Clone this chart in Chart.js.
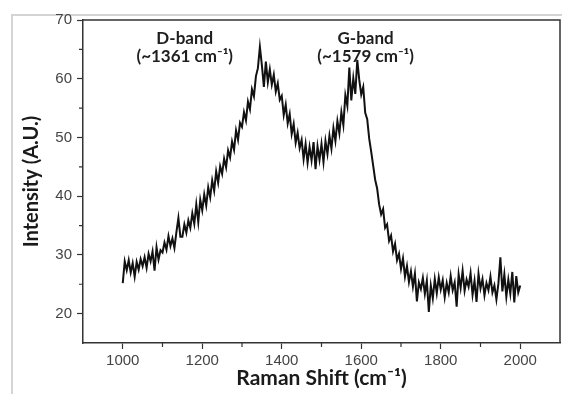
<!DOCTYPE html>
<html>
<head>
<meta charset="utf-8">
<script src="https://cdn.jsdelivr.net/npm/chart.js@4.4.1/dist/chart.umd.min.js"></script>
<style>
  html, body { margin: 0; padding: 0; background: #fff; }
  #wrap { position: relative; width: 562px; height: 394px; }
  #frame { position: absolute; left: 11px; top: 14px; width: 560px; height: 400px;
           border-left: 2px solid #d4d4d4; border-top: 2px solid #d4d4d4; }
  canvas { position: absolute; left: 0; top: 0; }
</style>
</head>
<body>
<div id="wrap">
  <div id="frame"></div>
  <canvas id="raman-chart" width="562" height="394"></canvas>
</div>
<script>

    // Raman shift from 1000 to 2000 cm-1, every 5 cm-1
    var shift_start = 1000;
    var shift_step = 5;

    // intensity, one row per 50 cm-1
    var intensity = [
        25.2, 28.9, 27.4, 29.1, 27.0, 28.6, 26.3, 28.8, 27.5, 29.3,
        28.1, 29.6, 27.8, 30.2, 28.9, 30.6, 27.3, 31.3, 29.2, 30.8,
        30.4, 32.1, 30.9, 33.2, 31.5, 32.8, 31.2, 33.9, 36.3, 33.1,
        33.1, 35.2, 33.8, 35.9, 34.6, 37.1, 35.3, 38.6, 35.6, 39.4,
        37.6, 40.3, 38.4, 41.5, 39.8, 42.7, 40.9, 44.2, 42.3, 45.1,
        43.8, 46.4, 44.9, 47.8, 46.6, 49.3, 47.9, 51.2, 49.6, 52.5,
        51.8, 54.3, 52.9, 56.1, 54.8, 58.2, 57.0, 60.4, 61.8, 65.4,
        62.3, 58.6, 62.9, 59.4, 61.6, 59.0, 60.7, 57.8, 59.2, 56.4,
        57.1, 53.8, 55.6, 52.4, 54.0, 50.6, 52.3, 49.1, 50.8, 48.2,
        49.6, 46.3, 48.9, 45.7, 48.4, 46.1, 49.2, 44.6, 48.5, 46.2,
        48.9, 45.8, 49.4, 47.2, 50.3, 48.1, 51.6, 49.4, 52.8, 50.7,
        54.3, 52.1, 57.2, 55.4, 61.9, 56.3, 60.1, 57.4, 63.2, 59.8,
        57.3, 58.6, 54.2, 53.1, 49.8, 47.6, 45.2, 42.8, 41.3, 38.6,
        36.9, 37.8, 34.6, 35.2, 32.4, 33.3, 30.6, 31.9, 29.1, 30.2,
        27.6, 29.4, 26.3, 28.1, 25.4, 27.2, 24.6, 26.8, 22.1, 25.3,
        24.2, 26.1, 23.4, 25.6, 20.3, 24.8, 22.6, 25.9, 23.5, 26.2,
        24.1, 25.7, 22.8, 25.2, 23.6, 26.4, 24.0, 25.3, 21.2, 26.7,
        24.4, 27.3, 23.9, 25.8, 24.6, 26.9, 23.2, 25.6, 22.0, 26.8,
        24.3, 25.9, 23.1, 25.2, 24.0, 26.3, 23.6, 24.8, 22.4, 25.1,
        29.6, 23.8, 26.7, 22.9, 25.8, 23.4, 27.1, 21.9, 26.4, 23.6,
        24.8
    ];

    // tick values on the axes
    var x_ticks = [1000, 1200, 1400, 1600, 1800, 2000];
    var x_minor = [1100, 1300, 1500, 1700, 1900];
    var y_ticks = [20, 30, 40, 50, 60, 70];
    var y_minor = [25, 35, 45, 55, 65];

    // band labels: text lines and where they sit (data units)
    var band_labels = [
        { x: 1156, y: 66.9, text: 'D-band' },
        { x: 1156, y: 63.8, text: '(~1361 cm\u207B\u00B9)' },
        { x: 1611, y: 66.9, text: 'G-band' },
        { x: 1611, y: 63.8, text: '(~1579 cm\u207B\u00B9)' }
    ];

    var x_min = 900, x_max = 2100;
    var y_min = 15, y_max = 70;

    var points = intensity.map(function (v, i) {
        return { x: shift_start + i * shift_step, y: v };
    });

    // box around the plot, minor ticks and band labels
    var extras = {
        id: 'extras',
        afterDraw: function (chart) {
            var ctx = chart.ctx, a = chart.chartArea;
            var xs = chart.scales.x, ys = chart.scales.y;
            ctx.save();
            ctx.strokeStyle = '#333';
            ctx.lineWidth = 1.5;
            ctx.beginPath();
            ctx.moveTo(a.left, a.top); ctx.lineTo(a.right, a.top); ctx.lineTo(a.right, a.bottom);
            ctx.stroke();
            ctx.lineWidth = 1.2;
            ctx.beginPath();
            x_minor.forEach(function (v) {
                var px = xs.getPixelForValue(v);
                ctx.moveTo(px, a.bottom); ctx.lineTo(px, a.bottom + 4);
            });
            y_minor.forEach(function (v) {
                var py = ys.getPixelForValue(v);
                ctx.moveTo(a.left, py); ctx.lineTo(a.left - 4, py);
            });
            ctx.stroke();
            ctx.fillStyle = '#1e1e1e';
            ctx.font = 'bold 17px Lato';
            ctx.textAlign = 'center';
            ctx.textBaseline = 'middle';
            band_labels.forEach(function (l) {
                ctx.fillText(l.text, xs.getPixelForValue(l.x), ys.getPixelForValue(l.y));
            });
            ctx.restore();
        }
    };

    var raman = {
        type: 'line',
        data: {
            datasets: [{
                data: points,
                borderColor: '#111',
                borderWidth: 2,
                pointRadius: 0,
                tension: 0,
                fill: false
            }]
        },
        options: {
            responsive: false,
            animation: false,
            layout: { padding: { left: 20, top: 20, right: 2, bottom: 3 } },
            plugins: { legend: { display: false }, tooltip: { enabled: false } },
            scales: {
                x: {
                    type: 'linear',
                    min: x_min, max: x_max,
                    afterFit: function (s) { s.height = 48; },
                    afterBuildTicks: function (s) {
                        s.ticks = x_ticks.map(function (v) { return { value: v }; });
                    },
                    ticks: { color: '#444', font: { family: 'Liberation Sans', size: 15 }, padding: 3, maxRotation: 0,
                             callback: function (v) { return String(v); } },
                    grid: { drawOnChartArea: false, tickLength: 6, tickColor: '#333', tickWidth: 1.2 },
                    border: { color: '#333', width: 1.5 },
                    title: { display: true, text: 'Raman Shift (cm\u207B\u00B9)', color: '#1a1a1a',
                             font: { family: 'Lato', size: 21, weight: 'bold' }, padding: { top: 0, bottom: 0 } }
                },
                y: {
                    min: y_min, max: y_max,
                    afterFit: function (s) { s.width = 63; },
                    afterBuildTicks: function (s) {
                        s.ticks = y_ticks.map(function (v) { return { value: v }; });
                    },
                    ticks: { color: '#444', font: { family: 'Liberation Sans', size: 15 }, padding: 5,
                             callback: function (v) { return String(v); } },
                    grid: { drawOnChartArea: false, tickLength: 6, tickColor: '#333', tickWidth: 1.2 },
                    border: { color: '#333', width: 1.5 },
                    title: { display: true, text: 'Intensity (A.U.)', color: '#1a1a1a',
                             font: { family: 'Lato', size: 20, weight: 'bold' }, padding: { top: 0, bottom: 0 } }
                }
            }
        },
        plugins: [extras]
    };

    window.onload = function () {
        var raman_w = document.getElementById('raman-chart').getContext('2d');
        window.myLine = new Chart(raman_w, raman);
    };

</script>
</body>
</html>
